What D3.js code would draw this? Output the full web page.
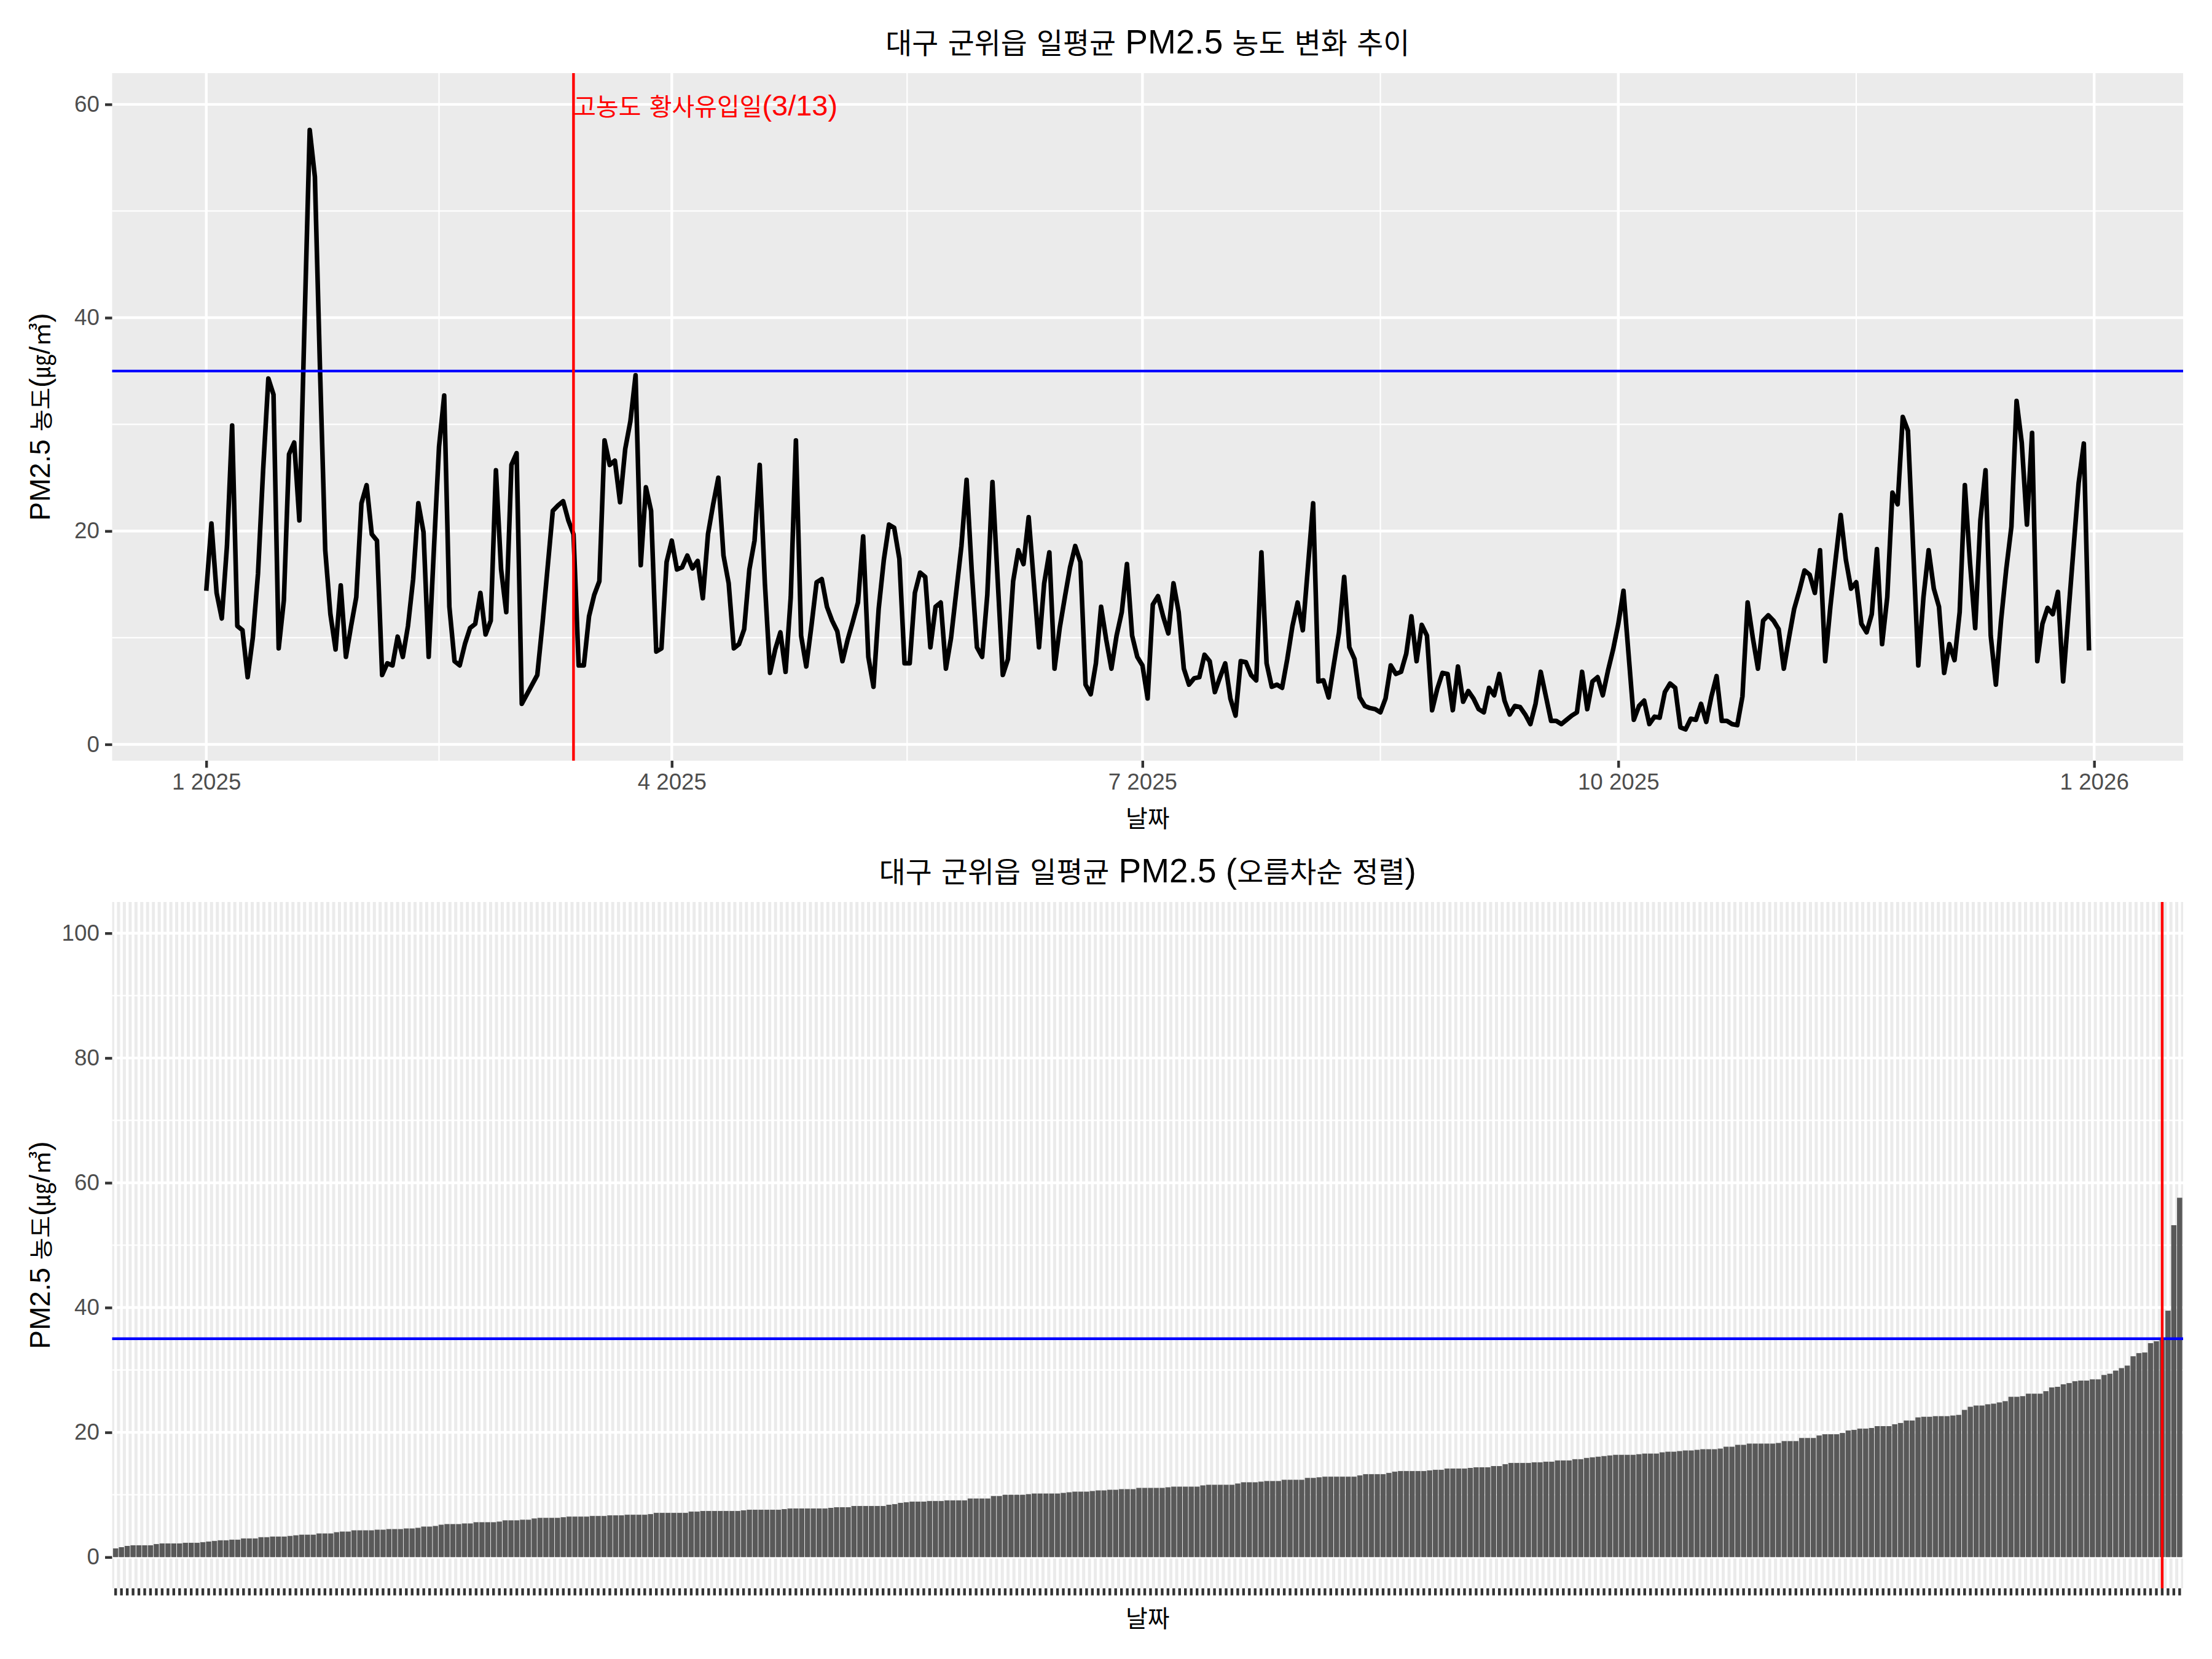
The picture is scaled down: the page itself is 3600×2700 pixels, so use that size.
<!DOCTYPE html>
<html>
<head>
<meta charset="utf-8">
<script src="https://cdn.jsdelivr.net/npm/d3@7"></script>
<style>
  body { margin: 0; background: #fff; }
</style>
</head>
<body>
<script>
// Daily mean PM2.5 (㎍/㎥) at 대구 군위읍, 2025, one value per day; null = no data that day
const jan = [14.4, 20.7, 14.2, 11.8, 18.6, 29.9, 11.1, 10.7, 6.3, 10.0, 16.0, 25.8, 34.3, 32.8, 9.0, 13.5,
  27.2, 28.3, 21.0, 39.5, 57.6, 53.2, 35.0, 18.2, 12.2, 8.9, 14.9, 8.2, 11.1, 13.8, 22.6];
const feb = [24.3, 19.7, 19.1, 6.5, 7.6, 7.4, 10.1, 8.2, 11.1, 15.5, 22.6, 19.9, 8.2, 18.2, 27.9, 32.7,
  12.9, 7.8, 7.4, 9.4, 10.9, 11.3, 14.2, 10.3, 11.6, 25.7, 16.4, 12.4];
const mar = [26.2, 27.3, 3.8, null, null, 6.5, 11.3, 16.6, 21.9, 22.4, 22.8, 21.0, 19.7, 7.4, 7.4, 12.0,
  14.0, 15.3, 28.5, 26.2, 26.6, 22.7, 27.7, 30.3, 34.6, 16.8, 24.1, 21.9, 8.7, 9.0, 17.1];
const apr = [19.1, 16.4, 16.6, 17.7, 16.5, 17.2, 13.7, 19.7, 22.5, 25.0, 17.7, 15.1, 9.0, 9.4, 10.8, 16.4,
  19.1, 26.2, 15.1, 6.7, 8.9, 10.5, 6.8, 13.8, 28.5, 10.2, 7.3, 11.1, 15.2, 15.5];
const may = [12.9, 11.6, 10.6, 7.8, 9.8, 11.5, 13.3, 19.5, 8.2, 5.4, 12.7, 17.3, 20.6, 20.3, 17.4, 7.6,
  7.6, 14.2, 16.1, 15.7, 9.1, 12.9, 13.3, 7.1, 10.0, null, 18.6, 24.8, 16.2, 9.1, 8.2];
const jun = [14.0, 24.6, 15.5, 6.5, 8.0, 15.3, 18.2, 16.9, 21.3, null, 9.1, 15.1, 18.0, 7.1, 10.9, 13.8,
  16.6, 18.6, 17.1, 5.6, 4.7, 7.6, 12.9, 9.8, 7.1, 10.2, 12.4, 16.9, 10.2, 8.2];
const jul = [7.4, 4.3, 13.1, 13.9, 12.0, 10.4, 15.1, 12.4, 7.1, 5.6, 6.2, 6.3, 8.4, 7.8, 4.9, 6.3,
  7.6, 4.3, 2.7, 7.8, 7.7, 6.5, 6.0, 18.0, 7.6, 5.4, 5.6, 5.3, 8.0, 11.1, 13.3];
const aug = [10.7, null, 22.6, 5.9, 6.0, 4.4, 7.5, 10.5, 15.7, 9.1, 8.0, 4.4, 3.6, 3.4, 3.3, 3.0,
  4.3, 7.4, 6.6, 6.8, 8.5, 12.0, 7.8, 11.2, 10.2, 3.2, 5.2, 6.7, 6.6, 3.2, 7.3];
const sep = [4.0, 5.0, 4.3, 3.3, 3.0, 5.3, 4.6, 6.6, 4.1, 2.8, 3.6, 3.5, 2.8, 1.9, 3.8, 6.8,
  4.5, 2.2, 2.2, 1.9, 2.3, 2.7, 3.0, 6.8, 3.3, 5.9, 6.3, 4.6, 6.9, 8.9];
const oct = [11.3, 14.4, null, 2.3, 3.6, 4.1, 1.9, 2.6, 2.5, 4.9, 5.7, 5.3, 1.6, 1.4, 2.4, 2.3,
  3.8, 2.1, 4.5, 6.4, 2.2, 2.2, 1.9, 1.8, 4.5, 13.3, 10.0, 7.1, 11.6, 12.1, 11.6];
const nov = [10.8, 7.1, 10.0, 12.7, 14.4, 16.3, 15.9, 14.2, 18.2, 7.8, 12.9, 17.3, 21.5, 17.3, 14.6, 15.2,
  11.3, 10.5, 12.2, 18.3, 9.4, 13.8, 23.6, 22.5, 30.7, 29.4, null, 7.4, 13.8, 18.2];
const dec = [14.6, 12.9, 6.7, 9.4, 7.9, 12.4, 24.3, 17.0, 10.9, 21.0, 25.7, 10.2, 5.6, 11.6, 16.4, 20.4,
  32.2, 28.3, 20.6, 29.2, 7.8, 11.3, 12.8, 12.2, 14.3, 5.9, null, null, 24.5, 28.2, 8.8];

const startDate = "2025-01-01";
const dateTicks = ["2025-01-01", "2025-04-01", "2025-07-01", "2025-10-01", "2026-01-01"];
const lineTicks = [0, 20, 40, 60];
const barTicks = [0, 20, 40, 60, 80, 100];
const barLimits = [0, 100];
const standardLimit = 35;          // blue reference line
const dustDay = "2025-03-13";      // red reference line
const dustLabel = "고농도 황사유입일(3/13)";
const dustLabelY = 60;
const sortedMarkRank = 4;          // red line in the sorted chart sits on the 4th highest bar

const title1 = "대구 군위읍 일평균 PM2.5 농도 변화 추이";
const title2 = "대구 군위읍 일평균 PM2.5 (오름차순 정렬)";
const yTitle = "PM2.5 농도(㎍/㎥)";
const xTitle = "날짜";

// Layout
const W = 3600, H = 2700;
const panelLeft = 182.5, panelRight = 3553;
const top1 = 119, bottom1 = 1238;
const top2 = 1468, bottom2 = 2585;
const tickLen = 11.5, tickPad = 9.2;
const LATIN = "'Liberation Sans', Arial, sans-serif";
const HANGUL = "'Noto Sans CJK KR', 'Noto Sans CJK SC', sans-serif";
const hangulScale = 0.85;
const bgColor = "#EBEBEB", tickColor = "#333333", tickTextColor = "#4D4D4D";
const majorGrid = 4.4, minorGrid = 2.2;

// Build the daily series (missing days dropped, so the line joins across them)
const parseDate = d3.utcParse("%Y-%m-%d");
const keyFormat = d3.utcFormat("%Y-%m-%d");
const t0 = parseDate(startDate);
const daily = [].concat(jan, feb, mar, apr, may, jun, jul, aug, sep, oct, nov, dec)
  .map((v, i) => ({ date: d3.utcDay.offset(t0, i), value: v }))
  .filter(d => d.value != null);
const sorted = daily.slice().sort((a, b) => a.value - b.value);

const svg = d3.select("body").append("svg")
  .attr("width", W)
  .attr("height", H);

svg.append("rect").attr("width", W).attr("height", H).attr("fill", "white");

// Text with Hangul runs set in a CJK font at a smaller size, like the reference
function richText(g, str, size) {
  const t = g.append("text").attr("font-family", LATIN).attr("font-size", size);
  const hangul = /[\u3131-\uD7A3\u3380-\u33FF]/;
  str.match(/[\u3131-\uD7A3\u3380-\u33FF]+|[^\u3131-\uD7A3\u3380-\u33FF]+/g).forEach(run => {
    const isH = hangul.test(run);
    t.append("tspan")
      .attr("font-family", isH ? HANGUL : LATIN)
      .attr("font-size", isH ? size * hangulScale : size)
      .text(run);
  });
  return t;
}

function midpoints(arr) {
  return arr.slice(1).map((b, i) => (+arr[i] + +b) / 2);
}

function styleAxis(g) {
  g.select(".domain").remove();
  g.selectAll(".tick line").attr("stroke", tickColor).attr("stroke-width", majorGrid);
  g.selectAll(".tick text")
    .attr("fill", tickTextColor)
    .attr("font-family", LATIN)
    .attr("font-size", 36.7);
}

// ---------- Top panel: line over time ----------
const first = daily[0].date, last = daily[daily.length - 1].date;
const span = last - first;
const x1 = d3.scaleUtc()
  .domain([new Date(+first - 0.05 * span), new Date(+last + 0.05 * span)])
  .range([panelLeft, panelRight]);

const vMin = d3.min(daily, d => d.value);
const vMax = Math.max(dustLabelY, d3.max(daily, d => d.value));
const vPad = 0.05 * (vMax - vMin);
const y1 = d3.scaleLinear().domain([vMin - vPad, vMax + vPad]).range([bottom1, top1]);

const p1 = svg.append("g").attr("class", "panel-top");
p1.append("rect")
  .attr("x", panelLeft).attr("y", top1)
  .attr("width", panelRight - panelLeft).attr("height", bottom1 - top1)
  .attr("fill", bgColor);

const majorDates = dateTicks.map(parseDate);
const minorDates = midpoints(majorDates);

p1.append("g").selectAll("line").data(midpoints(lineTicks)).join("line")
  .attr("x1", panelLeft).attr("x2", panelRight)
  .attr("y1", d => y1(d)).attr("y2", d => y1(d))
  .attr("stroke", "white").attr("stroke-width", minorGrid);
p1.append("g").selectAll("line").data(minorDates).join("line")
  .attr("x1", d => x1(d)).attr("x2", d => x1(d))
  .attr("y1", top1).attr("y2", bottom1)
  .attr("stroke", "white").attr("stroke-width", minorGrid);
p1.append("g").selectAll("line").data(lineTicks).join("line")
  .attr("x1", panelLeft).attr("x2", panelRight)
  .attr("y1", d => y1(d)).attr("y2", d => y1(d))
  .attr("stroke", "white").attr("stroke-width", majorGrid);
p1.append("g").selectAll("line").data(majorDates).join("line")
  .attr("x1", d => x1(d)).attr("x2", d => x1(d))
  .attr("y1", top1).attr("y2", bottom1)
  .attr("stroke", "white").attr("stroke-width", majorGrid);

const line = d3.line().x(d => x1(d.date)).y(d => y1(d.value));
p1.append("path")
  .datum(daily)
  .attr("d", line)
  .attr("fill", "none")
  .attr("stroke", "black")
  .attr("stroke-width", 7.5)
  .attr("stroke-linejoin", "round");

p1.append("line")
  .attr("x1", panelLeft).attr("x2", panelRight)
  .attr("y1", y1(standardLimit)).attr("y2", y1(standardLimit))
  .attr("stroke", "blue").attr("stroke-width", majorGrid);

const dustX = x1(parseDate(dustDay));
p1.append("line")
  .attr("x1", dustX).attr("x2", dustX)
  .attr("y1", top1).attr("y2", bottom1)
  .attr("stroke", "red").attr("stroke-width", majorGrid);

richText(p1, dustLabel, 47)
  .attr("x", dustX)
  .attr("y", y1(dustLabelY) + 18)
  .attr("fill", "red");

p1.append("g")
  .attr("transform", `translate(0,${bottom1})`)
  .call(d3.axisBottom(x1).tickValues(majorDates).tickFormat(d3.utcFormat("%-m %Y"))
    .tickSize(tickLen).tickPadding(tickPad))
  .call(styleAxis);

p1.append("g")
  .attr("transform", `translate(${panelLeft},0)`)
  .call(d3.axisLeft(y1).tickValues(lineTicks).tickSize(tickLen).tickPadding(tickPad))
  .call(styleAxis);

const centerX = (panelLeft + panelRight) / 2;
richText(svg, title1, 55).attr("x", centerX).attr("y", 87).attr("text-anchor", "middle");
richText(svg, xTitle, 45.8).attr("x", centerX).attr("y", 1346).attr("text-anchor", "middle");
richText(svg, yTitle, 45.8)
  .attr("text-anchor", "middle")
  .attr("transform", `translate(81,${(top1 + bottom1) / 2}) rotate(-90)`);

// ---------- Bottom panel: bars sorted ascending ----------
const x2 = d3.scaleBand()
  .domain(sorted.map(d => keyFormat(d.date)))
  .range([panelLeft, panelRight])
  .paddingInner(0.1)
  .paddingOuter(0.15);
const bPad = 0.05 * (barLimits[1] - barLimits[0]);
const y2 = d3.scaleLinear().domain([barLimits[0] - bPad, barLimits[1] + bPad]).range([bottom2, top2]);

const p2 = svg.append("g").attr("class", "panel-bottom");
p2.append("rect")
  .attr("x", panelLeft).attr("y", top2)
  .attr("width", panelRight - panelLeft).attr("height", bottom2 - top2)
  .attr("fill", bgColor);

p2.append("g").selectAll("line").data(midpoints(barTicks)).join("line")
  .attr("x1", panelLeft).attr("x2", panelRight)
  .attr("y1", d => y2(d)).attr("y2", d => y2(d))
  .attr("stroke", "white").attr("stroke-width", minorGrid);
p2.append("g").selectAll("line").data(barTicks).join("line")
  .attr("x1", panelLeft).attr("x2", panelRight)
  .attr("y1", d => y2(d)).attr("y2", d => y2(d))
  .attr("stroke", "white").attr("stroke-width", majorGrid);
p2.append("g").selectAll("line").data(x2.domain()).join("line")
  .attr("x1", d => x2(d) + x2.bandwidth() / 2).attr("x2", d => x2(d) + x2.bandwidth() / 2)
  .attr("y1", top2).attr("y2", bottom2)
  .attr("stroke", "white").attr("stroke-width", majorGrid);

p2.append("g").selectAll("rect").data(sorted).join("rect")
  .attr("x", d => x2(keyFormat(d.date)))
  .attr("width", x2.bandwidth())
  .attr("y", d => y2(d.value))
  .attr("height", d => y2(0) - y2(d.value))
  .attr("fill", "#595959");

p2.append("line")
  .attr("x1", panelLeft).attr("x2", panelRight)
  .attr("y1", y2(standardLimit)).attr("y2", y2(standardLimit))
  .attr("stroke", "blue").attr("stroke-width", majorGrid);

const markKey = keyFormat(sorted[sorted.length - sortedMarkRank].date);
const markX = x2(markKey) + x2.bandwidth() / 2;
p2.append("line")
  .attr("x1", markX).attr("x2", markX)
  .attr("y1", top2).attr("y2", bottom2)
  .attr("stroke", "red").attr("stroke-width", majorGrid);

p2.append("g")
  .attr("transform", `translate(0,${bottom2})`)
  .call(d3.axisBottom(x2).tickSize(tickLen).tickFormat(""))
  .call(styleAxis);

p2.append("g")
  .attr("transform", `translate(${panelLeft},0)`)
  .call(d3.axisLeft(y2).tickValues(barTicks).tickSize(tickLen).tickPadding(tickPad))
  .call(styleAxis);

richText(svg, title2, 55).attr("x", centerX).attr("y", 1436).attr("text-anchor", "middle");
richText(svg, xTitle, 45.8).attr("x", centerX).attr("y", 2648).attr("text-anchor", "middle");
richText(svg, yTitle, 45.8)
  .attr("text-anchor", "middle")
  .attr("transform", `translate(81,${(top2 + bottom2) / 2}) rotate(-90)`);
</script>
</body>
</html>
